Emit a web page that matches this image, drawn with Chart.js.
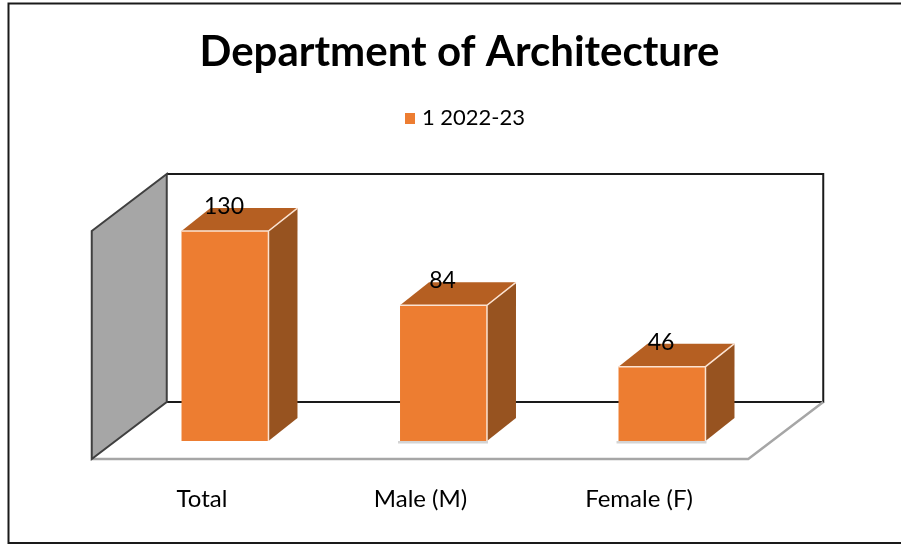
<!DOCTYPE html>
<html><head><meta charset="utf-8">
<style>html,body{margin:0;padding:0;background:#fff}canvas{display:block}</style>
<script src="https://cdn.jsdelivr.net/npm/chart.js@4"></script>
</head><body><canvas id="c" width="901" height="544"></canvas>
<script>
const categories = ['Total', 'Male (M)', 'Female (F)'];
const seriesName = '1 2022-23';
const values = [130, 84, 46];
const titleText = 'Department of Architecture';
const FONT = 'Lato, Carlito, Calibri, sans-serif';
const COL = {front:'#ED7D31', top:'#B55F22', side:'#975320', wall:'#A6A6A6', wallLine:'#404040', floorLine:'#A6A6A6', back:'#1a1a1a', shadow:'#D4D4D4'};
const bar = {dx:29, dy:23};
const room = {dx:75, dy:57, lead:24, drop:18, tail:23, height:228};

// legend swatch: the square sits to the right of a small transparent margin
const swatch = document.createElement('canvas');
swatch.width = 14; swatch.height = 11;
(function(){const g=swatch.getContext('2d');g.fillStyle=COL.front;g.fillRect(4,0,10,11);})();

function poly(ctx, pts, fill, stroke, lw){
  ctx.beginPath();
  pts.forEach((p,i)=> i?ctx.lineTo(p[0],p[1]):ctx.moveTo(p[0],p[1]));
  ctx.closePath();
  if(fill){ctx.fillStyle=fill;ctx.fill();}
  if(stroke){ctx.strokeStyle=stroke;ctx.lineWidth=lw||1;ctx.stroke();}
}
const threeD = {
  id:'threeD',
  afterLayout(chart){
    chart.legend.left += 5.5; chart.legend.right += 5.5;
  },
  beforeDraw(chart){
    const {ctx,width}=chart;
    ctx.save();
    ctx.strokeStyle='#1a1a1a';ctx.lineWidth=2;
    ctx.beginPath();
    ctx.moveTo(width,3.5);ctx.lineTo(8.5,3.5);ctx.lineTo(8.5,543);ctx.lineTo(width,543);
    ctx.stroke();
    ctx.restore();
  },
  beforeDatasetsDraw(chart){
    const {ctx,chartArea:a}=chart;
    const L=a.left-room.lead, B=a.bottom+room.drop, R=a.right-room.tail, T=B-room.height;
    const bx=L+room.dx, by=B-room.dy, bt=T-room.dy, brx=R+room.dx;
    ctx.save();
    ctx.strokeStyle=COL.back;ctx.lineWidth=2;
    ctx.beginPath();ctx.moveTo(bx,by);ctx.lineTo(brx,by);ctx.lineTo(brx,bt);ctx.lineTo(bx,bt);ctx.stroke();
    ctx.strokeStyle=COL.floorLine;ctx.lineWidth=2.5;
    ctx.beginPath();ctx.moveTo(L,B);ctx.lineTo(R,B);ctx.lineTo(brx,by);ctx.stroke();
    poly(ctx,[[L,T],[bx,bt],[bx,by],[L,B]],COL.wall,COL.wallLine,2);
    // soft contact shadow below the two shorter bars
    chart.getDatasetMeta(0).data.forEach((el,i)=>{
      if(i===0) return;
      ctx.fillStyle=COL.shadow;
      ctx.fillRect(el.x-el.width/2-2, el.base, el.width+3, 2.5);
    });
    ctx.restore();
  },
  afterDatasetsDraw(chart){
    const {ctx}=chart;
    const meta=chart.getDatasetMeta(0);
    ctx.save();
    meta.data.forEach((el)=>{
      const l=el.x-el.width/2, r=el.x+el.width/2, t=el.y, b=el.base;
      poly(ctx,[[l,t],[l+bar.dx,t-bar.dy],[r+bar.dx,t-bar.dy],[r,t]],COL.top);
      poly(ctx,[[r,t],[r+bar.dx,t-bar.dy],[r+bar.dx,b-bar.dy],[r,b]],COL.side);
      ctx.strokeStyle='#FBE3D2';ctx.lineWidth=1.5;
      ctx.beginPath();ctx.moveTo(l,t);ctx.lineTo(r,t);ctx.lineTo(r+bar.dx,t-bar.dy);ctx.moveTo(r,t);ctx.lineTo(r,b);ctx.stroke();
    });
    ctx.fillStyle='#000';ctx.font='23px '+FONT;ctx.textAlign='center';ctx.textBaseline='middle';
    meta.data.forEach((el,i)=>{ctx.fillText(String(values[i]),el.x-1,el.y-24.5);});
    ctx.restore();
  }
};
const fixedWidth = w => scale => { scale.width = w; };
new Chart(document.getElementById('c'),{
  type:'bar',
  data:{labels:categories,datasets:[{label:seriesName,data:values,backgroundColor:COL.front,borderWidth:0,barPercentage:0.398,categoryPercentage:1,pointStyle:swatch}]},
  plugins:[threeD],
  options:{
    responsive:false,animation:false,
    layout:{padding:{left:18,right:0,top:0,bottom:0}},
    plugins:{
      tooltip:{enabled:false},
      title:{display:true,text:titleText,color:'#000',font:{family:FONT,size:42,weight:'bold'},padding:{top:27,bottom:19.6}},
      legend:{display:true,position:'top',labels:{color:'#000',font:{family:FONT,size:22},boxWidth:6,boxHeight:11,usePointStyle:true,padding:10}}
    },
    scales:{
      x:{grid:{display:false,drawTicks:false},border:{display:false},
         ticks:{color:'#000',font:{family:FONT,size:24},padding:44,labelOffset:-23,maxRotation:0},
         afterFit(s){s.height=103;}},
      y:{min:0,max:187,position:'left',grid:{display:false},border:{display:false},ticks:{display:false},afterFit:fixedWidth(97.75)},
      y2:{min:0,max:187,position:'right',grid:{display:false},border:{display:false},ticks:{display:false},afterFit:fixedWidth(129.75)}
    }
  }
});
</script></body></html>
